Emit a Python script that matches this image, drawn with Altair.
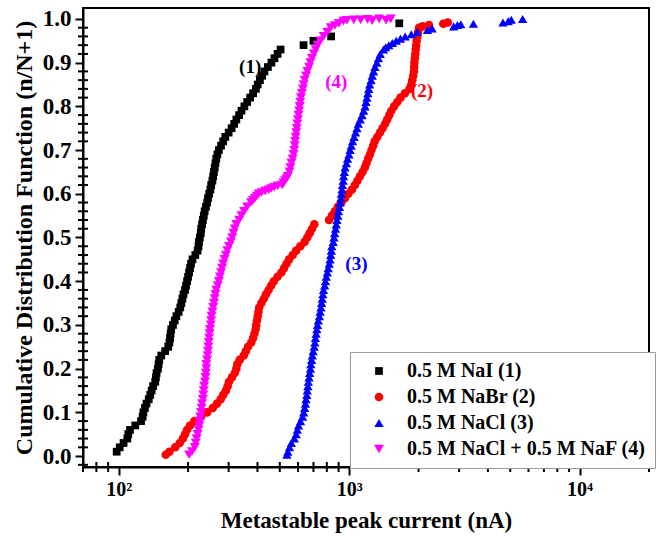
import altair as alt
import pandas as pd

names = ["0.5 M NaI (1)", "0.5 M NaBr (2)", "0.5 M NaCl (3)", "0.5 M NaCl + 0.5 M NaF (4)"]
colors = ["#000000", "#FF0000", "#0000FF", "#FF00FF"]
shapes = ["square", "circle", "triangle-up", "triangle-down"]
sizes = [60, 100, 150, 165]

# ---- (1) 0.5 M NaI ----
nai_x = [98, 101, 105, 109, 110, 112, 118, 125, 127, 128,
         130, 132, 135, 137, 139, 141, 144, 145, 146, 148,
         149, 150, 153, 159, 164, 166, 167, 168, 169, 172,
         175, 178, 182, 185, 187, 189, 191, 194, 196, 198,
         200, 202, 204, 206, 209, 215, 220, 222, 223, 225,
         227, 228, 230, 232, 234, 236, 239, 242, 244, 247,
         250, 252, 255, 257, 259, 261, 263, 265, 268, 272,
         278, 284, 290, 300, 309, 317, 324, 333, 341, 351,
         361, 372, 383, 394, 401, 410, 419, 429, 444, 460,
         474, 489, 504, 634, 700, 835, 1650]
nai_y = [0.01, 0.02, 0.03, 0.04, 0.05, 0.06, 0.07, 0.08, 0.09, 0.10,
         0.11, 0.12, 0.13, 0.14, 0.15, 0.16, 0.17, 0.18, 0.19, 0.20,
         0.21, 0.22, 0.23, 0.24, 0.25, 0.26, 0.27, 0.28, 0.29, 0.30,
         0.31, 0.32, 0.33, 0.34, 0.35, 0.36, 0.37, 0.38, 0.39, 0.40,
         0.41, 0.42, 0.43, 0.44, 0.45, 0.46, 0.47, 0.48, 0.49, 0.50,
         0.51, 0.52, 0.53, 0.54, 0.55, 0.56, 0.57, 0.58, 0.59, 0.60,
         0.61, 0.62, 0.63, 0.64, 0.65, 0.66, 0.67, 0.68, 0.69, 0.70,
         0.71, 0.72, 0.73, 0.74, 0.75, 0.76, 0.77, 0.78, 0.79, 0.80,
         0.81, 0.82, 0.83, 0.84, 0.85, 0.86, 0.87, 0.88, 0.89, 0.90,
         0.91, 0.92, 0.93, 0.94, 0.95, 0.96, 0.99]

# ---- (2) 0.5 M NaBr ----
nabr_x = [160, 166, 176, 184, 190, 194, 198, 204, 213, 228, 242,
          256, 267, 277, 284, 292, 297, 301, 310, 319, 324,
          327, 335, 349, 356, 364, 376, 383, 388, 393, 395,
          398, 401, 404, 407, 416, 426, 436, 447, 459, 471,
          489, 508, 522, 535, 549, 569, 589, 614, 641, 658,
          674, 690, 706, 818, 842, 867, 893, 925, 958, 993,
          1028, 1059, 1086, 1114, 1143, 1170, 1189, 1208, 1230, 1250,
          1271, 1291, 1324, 1361, 1396, 1432, 1462, 1493, 1524, 1567,
          1618, 1671, 1746, 1828, 1862, 1879, 1897, 1910, 1914, 1919,
          1928, 1936, 1945, 1954, 1963, 1977, 1991, 2009,
          2080, 2220, 2560, 2680]
nabr_y = [0.003, 0.01, 0.02, 0.03, 0.04, 0.05, 0.06, 0.07, 0.08, 0.09, 0.10,
          0.11, 0.12, 0.13, 0.14, 0.15, 0.16, 0.17, 0.18, 0.19, 0.20,
          0.21, 0.22, 0.23, 0.24, 0.25, 0.26, 0.27, 0.28, 0.29, 0.30,
          0.31, 0.32, 0.33, 0.34, 0.35, 0.36, 0.37, 0.38, 0.39, 0.40,
          0.41, 0.42, 0.43, 0.44, 0.45, 0.46, 0.47, 0.48, 0.49, 0.50,
          0.51, 0.52, 0.53, 0.54, 0.55, 0.56, 0.57, 0.58, 0.59, 0.60,
          0.61, 0.62, 0.63, 0.64, 0.65, 0.66, 0.67, 0.68, 0.69, 0.70,
          0.71, 0.72, 0.73, 0.74, 0.75, 0.76, 0.77, 0.78, 0.79, 0.80,
          0.81, 0.82, 0.83, 0.84, 0.85, 0.86, 0.87, 0.88, 0.89, 0.90,
          0.91, 0.92, 0.93, 0.94, 0.95, 0.96, 0.97, 0.98,
          0.983, 0.986, 0.989, 0.992]

# ---- (3) 0.5 M NaCl ----
nacl_x = [537, 542, 551, 561, 578, 589, 596, 603, 615, 628, 635,
          641, 646, 650, 655, 658, 662, 665, 670, 674, 679,
          682, 687, 692, 698, 705, 710, 714, 719, 724, 729,
          735, 743, 748, 754, 759, 764, 769, 774, 783, 789,
          796, 804, 811, 820, 826, 832, 837, 841, 853, 859,
          865, 873, 879, 885, 893, 899, 908, 914, 920, 925,
          931, 935, 942, 946, 953, 960, 973, 984, 998, 1009,
          1021, 1035, 1050, 1066, 1081, 1096, 1117, 1138, 1156, 1172,
          1183, 1194, 1205, 1216, 1227, 1245, 1259, 1276, 1294, 1318,
          1340, 1365, 1409, 1440, 1486, 1540, 1600, 1670, 1750, 1860, 1977,
          2188, 2290, 2840, 2950, 3050, 3460, 4650, 4900, 5050, 5660]
nacl_y = [0.003, 0.01, 0.02, 0.03, 0.04, 0.05, 0.06, 0.07, 0.08, 0.09, 0.10,
          0.11, 0.12, 0.13, 0.14, 0.15, 0.16, 0.17, 0.18, 0.19, 0.20,
          0.21, 0.22, 0.23, 0.24, 0.25, 0.26, 0.27, 0.28, 0.29, 0.30,
          0.31, 0.32, 0.33, 0.34, 0.35, 0.36, 0.37, 0.38, 0.39, 0.40,
          0.41, 0.42, 0.43, 0.44, 0.45, 0.46, 0.47, 0.48, 0.49, 0.50,
          0.51, 0.52, 0.53, 0.54, 0.55, 0.56, 0.57, 0.58, 0.59, 0.60,
          0.61, 0.62, 0.63, 0.64, 0.65, 0.66, 0.67, 0.68, 0.69, 0.70,
          0.71, 0.72, 0.73, 0.74, 0.75, 0.76, 0.77, 0.78, 0.79, 0.80,
          0.81, 0.82, 0.83, 0.84, 0.85, 0.86, 0.87, 0.88, 0.89, 0.90,
          0.91, 0.92, 0.93, 0.935, 0.94, 0.945, 0.95, 0.955, 0.96, 0.965, 0.97,
          0.975, 0.978, 0.983, 0.986, 0.988, 0.989, 0.992, 0.995, 0.998, 1.0]

# ---- (4) 0.5 M NaCl + 0.5 M NaF ----
naf_x = [202, 208, 214, 216, 218, 220, 222, 224, 225, 226, 228,
         229, 230, 232, 233, 234, 235, 237, 238, 239, 240,
         240, 242, 243, 244, 245, 246, 247, 248, 249, 251,
         252, 253, 255, 257, 259, 261, 263, 265, 269, 272,
         275, 278, 281, 284, 288, 292, 296, 301, 307, 311,
         315, 319, 324, 333, 341, 350, 361, 375,
         383, 390, 398, 405, 417, 432, 447, 459, 473, 490, 512,
         519, 527, 535, 542,
         551, 556, 562, 569, 574, 578,
         581, 583, 586, 590, 593, 596, 600, 603, 607, 610,
         614, 618, 624, 630, 635, 641, 650, 659, 670, 679,
         690, 703, 716, 729, 750, 776, 804, 832,
         867, 902, 944, 977, 1047, 1122, 1202, 1259, 1349, 1445, 1514]
naf_y = [0.003, 0.01, 0.02, 0.03, 0.04, 0.05, 0.06, 0.07, 0.08, 0.09, 0.10,
         0.11, 0.12, 0.13, 0.14, 0.15, 0.16, 0.17, 0.18, 0.19, 0.20,
         0.21, 0.22, 0.23, 0.24, 0.25, 0.26, 0.27, 0.28, 0.29, 0.30,
         0.31, 0.32, 0.33, 0.34, 0.35, 0.36, 0.37, 0.38, 0.39, 0.40,
         0.41, 0.42, 0.43, 0.44, 0.45, 0.46, 0.47, 0.48, 0.49, 0.50,
         0.51, 0.52, 0.53, 0.54, 0.55, 0.56, 0.57, 0.58,
         0.585, 0.59, 0.595, 0.60, 0.603, 0.606, 0.609, 0.612, 0.615, 0.618, 0.62,
         0.625, 0.63, 0.635, 0.64,
         0.65, 0.66, 0.67, 0.68, 0.69, 0.70,
         0.71, 0.72, 0.73, 0.74, 0.75, 0.76, 0.77, 0.78, 0.79, 0.80,
         0.81, 0.82, 0.83, 0.84, 0.85, 0.86, 0.87, 0.88, 0.89, 0.90,
         0.91, 0.92, 0.93, 0.94, 0.95, 0.96, 0.97, 0.98,
         0.985, 0.99, 0.995, 0.997, 0.998, 0.998, 0.999, 0.996, 1.0, 0.997, 1.0]

# annotations
ann_text = ["(1)", "(2)", "(3)", "(4)"]
ann_x = [372, 2070, 1075, 880]
ann_y = [0.89, 0.835, 0.44, 0.855]

# axis ticks
x_major = [100, 1000, 10000]
x_minor = [70, 80, 90, 200, 300, 400, 500, 600, 700, 800, 900,
           2000, 3000, 4000, 5000, 6000, 7000, 8000, 9000, 20000]
y_major = [0.0, 0.1, 0.2, 0.3, 0.4, 0.5, 0.6, 0.7, 0.8, 0.9, 1.0]
y_minor = [-0.02, 0.02, 0.04, 0.06, 0.08, 0.12, 0.14, 0.16, 0.18,
           0.22, 0.24, 0.26, 0.28, 0.32, 0.34, 0.36, 0.38,
           0.42, 0.44, 0.46, 0.48, 0.52, 0.54, 0.56, 0.58,
           0.62, 0.64, 0.66, 0.68, 0.72, 0.74, 0.76, 0.78,
           0.82, 0.84, 0.86, 0.88, 0.92, 0.94, 0.96, 0.98]

rows = []
for name, xs, ys in zip(names, [nai_x, nabr_x, nacl_x, naf_x], [nai_y, nabr_y, nacl_y, naf_y]):
    assert len(xs) == len(ys), name
    for xv, yv in zip(xs, ys):
        rows.append({"series": name, "current": xv, "cdf": yv})
df = pd.DataFrame(rows)

FONT = "Liberation Serif"
PLOT_W, PLOT_H = 566, 459
xscale = alt.Scale(type="log", domain=[70, 20000], nice=False)
yscale = alt.Scale(domain=[-0.025, 1.025], nice=False, zero=False)

common_axis = dict(grid=False, domainColor="black", tickColor="black", labelColor="black",
                   titleColor="black", labelFont=FONT, titleFont=FONT, labelFontWeight="bold",
                   titleFontWeight="bold", labelOverlap=False, domainWidth=2, tickWidth=2,
                   tickSize=8)

x_axis = alt.Axis(values=x_major, orient="bottom",
                  labelFontSize=20, titleFontSize=23, labelPadding=4, titlePadding=10,
                  labelExpr="datum.value == 100 ? '10\u00b2' : datum.value == 1000 ? '10\u00b3' : '10\u2074'",
                  title="Metastable peak current (nA)", **common_axis)
y_axis = alt.Axis(values=y_major, orient="left", format=".1f",
                  labelFontSize=23, titleFontSize=24, labelPadding=4, titlePadding=6,
                  title="Cumulative Distribution Function (n/N+1)", **common_axis)

points = alt.Chart(df).mark_point(filled=True, opacity=1, strokeWidth=0).encode(
    x=alt.X("current:Q", scale=xscale, axis=x_axis),
    y=alt.Y("cdf:Q", scale=yscale, axis=y_axis),
    color=alt.Color("series:N", scale=alt.Scale(domain=names, range=colors),
                    legend=alt.Legend(title=None)),
    shape=alt.Shape("series:N", scale=alt.Scale(domain=names, range=shapes),
                    legend=alt.Legend(title=None)),
    size=alt.Size("series:N", scale=alt.Scale(domain=names, range=sizes), legend=None),
)

# minor ticks drawn as tick marks just outside the frame, positioned through the scales
xminor_df = pd.DataFrame({"current": x_minor})
yminor_df = pd.DataFrame({"cdf": y_minor})
xminor = alt.Chart(xminor_df).mark_tick(color="black", thickness=2, size=10, orient="vertical",
                                        opacity=1, clip=False).encode(
    x=alt.X("current:Q", scale=xscale, axis=None),
    y=alt.value(PLOT_H),
)
yminor = alt.Chart(yminor_df).mark_tick(color="black", thickness=2, size=10, orient="horizontal",
                                        opacity=1, clip=False).encode(
    y=alt.Y("cdf:Q", scale=yscale, axis=None),
    x=alt.value(0),
)

layers = [xminor, yminor, points]
for t, xv, yv, c in zip(ann_text, ann_x, ann_y, colors):
    ann_df = pd.DataFrame({"label": [t], "current": [xv], "cdf": [yv]})
    layers.append(
        alt.Chart(ann_df).mark_text(font=FONT, fontWeight="bold", fontSize=19, color=c).encode(
            x=alt.X("current:Q", scale=xscale, axis=None),
            y=alt.Y("cdf:Q", scale=yscale, axis=None),
            text="label:N",
        )
    )

chart = alt.layer(*layers).resolve_axis(x="independent", y="independent").properties(
    width=PLOT_W, height=PLOT_H,
    padding={"left": 83, "top": 8, "right": 10, "bottom": 76},
    autosize=alt.AutoSizeParams(type="none"),
).configure_view(stroke="black", strokeWidth=2).configure_legend(
    orient="none", legendX=267, legendY=344,
    strokeColor="#9a9a9a", fillColor="white", padding=9,
    labelFont=FONT, labelFontWeight="bold", labelFontSize=20, labelColor="black",
    labelLimit=400, symbolSize=90, rowPadding=6, labelOffset=18, symbolOffset=10,
    symbolStrokeWidth=0,
)

chart.save("out.html", embed_options={"renderer": "svg", "actions": False})
